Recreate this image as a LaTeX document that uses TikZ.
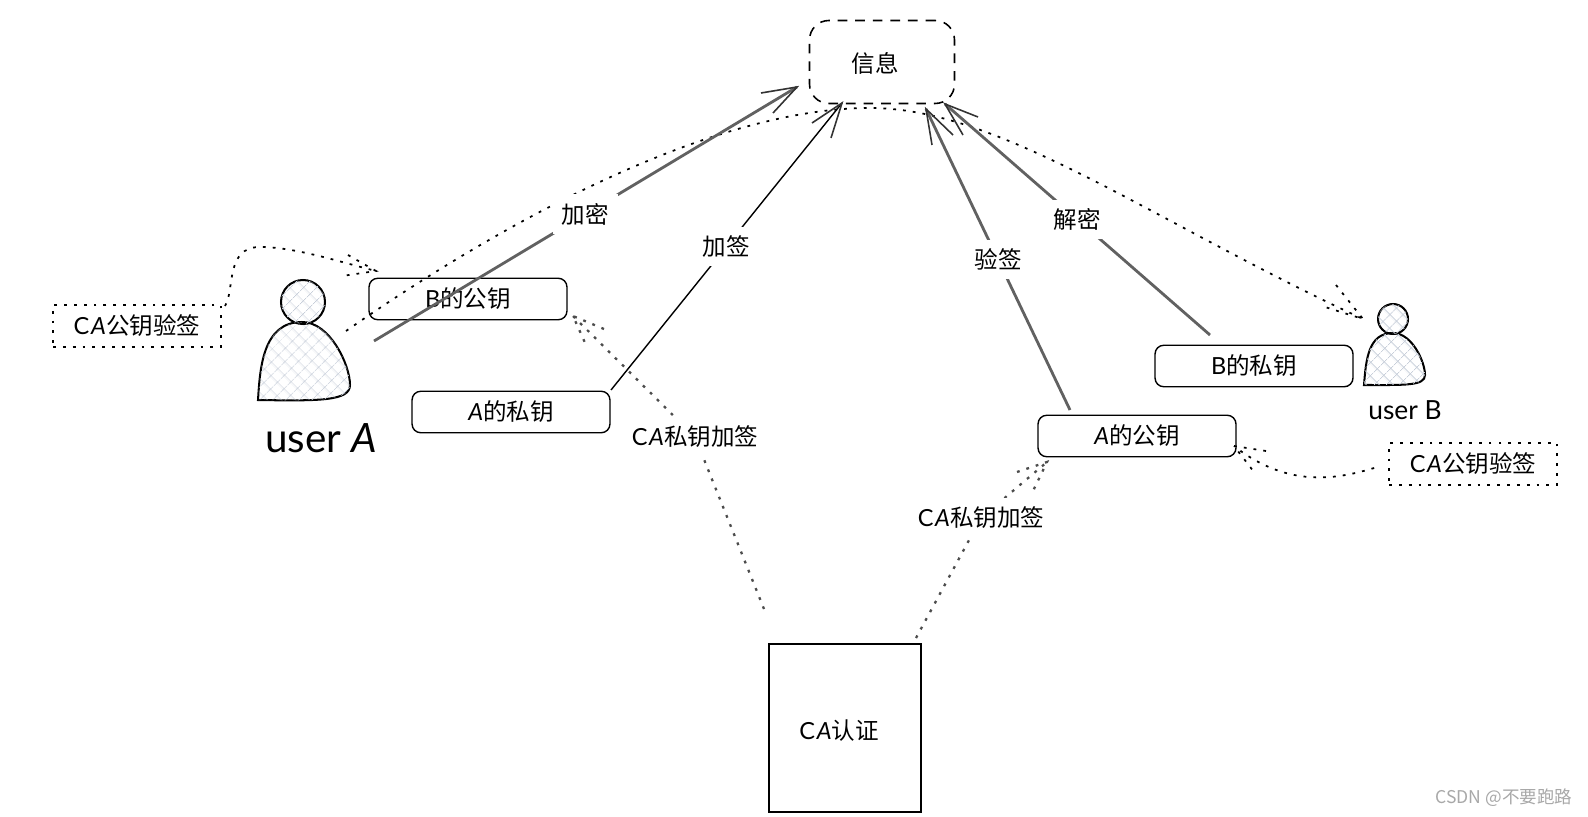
\documentclass[tikz,border=0pt]{standalone}
\usepackage{fontspec}
\setmainfont{Noto Sans CJK SC}
\newfontfamily\handfont{Lato}
\usepackage{tikz}
\usetikzlibrary{arrows.meta,patterns.meta}
\newcommand{\nameA}{{\handfont\itshape A}}
\newcommand{\nameB}{{\handfont B}}
\newcommand{\nameCA}{{\handfont C\kern1pt\itshape A}}
\definecolor{HatchGray}{HTML}{C8CFDA}
\definecolor{MarkGray}{HTML}{A8A8A8}
\begin{document}
\begin{tikzpicture}[
  x=0.02cm,y=-0.02cm,
  every node/.style={font=\fontsize{13.4}{15}\selectfont,align=center,text=black},
  keybox/.style={draw,rounded corners=5pt,minimum width=3.96cm,minimum height=0.83cm,line width=0.8pt},
  notebox/.style={draw,dash pattern=on 1.6pt off 4pt,minimum width=3.36cm,minimum height=0.84cm,line width=1pt},
  tag/.style={fill=white,inner sep=5pt},
  hatched/.style={postaction={pattern={Hatch[angle=45,distance=5.4pt,line width=0.45pt]},pattern color=HatchGray}},
  person/.style={draw,line width=1.15pt,hatched},
  thin arr/.style={line width=0.8pt},
  thick arr/.style={line width=1.6pt,black!62},
  barb/.style={line width=0.9pt,black!80},
  dots/.style={line width=1pt,dash pattern=on 1.6pt off 4pt},
  dots2/.style={line width=1.3pt,black!70,dash pattern=on 1.6pt off 4pt}
]
  \useasboundingbox (0,0) rectangle (1588,817);

  \node[draw,dash pattern=on 5.5pt off 4.5pt,rounded corners=11pt,line width=0.9pt,
        minimum width=2.9cm,minimum height=1.66cm] (msg) at (882,62) {};
  \node (msgtext) at (875,63) {信息};
  \node[keybox] (bpub) at (468,299) {\nameB 的公钥};
  \node[keybox] (apri) at (511,412) {\nameA 的私钥};
  \node[keybox] (bpri) at (1254,366) {\nameB 的私钥};
  \node[keybox] (apub) at (1137,436) {\nameA 的公钥};
  \node[notebox] (noteA) at (137,326) {\nameCA 公钥验签};
  \node[notebox] (noteB) at (1473,464) {\nameCA 公钥验签};
  \node[draw,line width=0.6pt,minimum width=3.04cm,minimum height=3.36cm] (ca) at (845,728) {};
  \node (catext) at (839,731) {\nameCA 认证};

  \draw[person] (258,400) .. controls (260,370) and (262,322) .. (302,322)
    .. controls (330,322) and (350,365) .. (350,385)
    .. controls (350,401) and (320,401) .. cycle;
  \node[circle,draw,line width=1.15pt,minimum size=0.88cm,hatched] (headA) at (303,302) {};
  \draw[person] (1364,385) .. controls (1366,360) and (1368,333) .. (1393,333)
    .. controls (1412,333) and (1425,362) .. (1425,375)
    .. controls (1425,386) and (1405,385) .. cycle;
  \node[circle,draw,line width=1.15pt,minimum size=0.6cm,hatched] (headB) at (1393,319) {};
  \node[font=\handfont\fontsize{23}{25}\selectfont] (userA) at (321,438) {user \itshape A};
  \node[font=\handfont\fontsize{15}{17}\selectfont] (userB) at (1405,410) {user B};

  \coordinate (arcA) at (346,331);
  \coordinate (arcB) at (1363,319);
  \coordinate (lineA) at (374,341);
  \coordinate (lineAri) at (611,390);
  \coordinate (lineApu) at (1070,410);
  \coordinate (lineBri) at (1210,335);
  \coordinate (tipEnc) at (797,87);
  \coordinate (tipSig) at (842,103);
  \coordinate (tipVer) at (926,109);
  \coordinate (tipDec) at (945,104);
  \coordinate (caL) at (764,609);
  \coordinate (caR) at (916,638);
  \coordinate (bendL) at (695,437);
  \coordinate (bendR) at (981,518);
  \coordinate (tipBpub) at (573,316);
  \coordinate (tipApub) at (1047,462);
  \coordinate (tipNoteA) at (376,271);
  \coordinate (tipNoteB) at (1234,446);

  \draw[dots] (arcA) .. controls (520,210) and (720,108) .. (870,108)
    .. controls (1000,108) and (1150,220) .. (arcB);
  \draw[dots] (arcB) +(-27,-34) -- (arcB) -- +(-38,-12);
  \draw[dots] (225,306) .. controls (235,290) and (225,247) .. (260,247)
    .. controls (295,247) and (340,262) .. (tipNoteA);
  \draw[dots] (tipNoteA) +(-28,-16) -- (tipNoteA) -- +(-34,5);
  \draw[dots] (noteB.west) ++(-14,4) .. controls (1340,478) and (1290,490) .. (tipNoteB);
  \draw[dots] (tipNoteB) +(32,5) -- (tipNoteB) -- +(20,26);

  \draw[dots2] (caL) -- (bendL) node[tag] (signL) {\nameCA 私钥加签} -- (tipBpub);
  \draw[dots2] (tipBpub) +(31,13) -- (tipBpub) -- +(13,29);
  \draw[dots2] (caR) -- (bendR) node[tag] (signR) {\nameCA 私钥加签} -- (tipApub);
  \draw[dots2] (tipApub) +(-30,10) -- (tipApub) -- +(-14,29);

  \draw[thick arr] (lineA) -- node[tag] (enc) {加密} (tipEnc);
  \draw[barb] (tipEnc) +(-36,6) -- (tipEnc) -- +(-24,26);
  \draw[thin arr] (lineAri) -- node[tag] (sig) {加签} (tipSig);
  \draw[barb] (tipSig) +(-30,20) -- (tipSig) -- +(-11,35);
  \draw[thick arr] (lineApu) -- node[tag] (ver) {验签} (tipVer);
  \draw[barb] (tipVer) +(6,36) -- (tipVer) -- +(27,26);
  \draw[thick arr] (lineBri) -- node[tag] (dec) {解密} (tipDec);
  \draw[barb] (tipDec) +(33,13) -- (tipDec) -- +(18,31);

  \node[font=\fontsize{10}{12}\selectfont,text=MarkGray] (mark) at (1504,798) {CSDN @不要跑路};
\end{tikzpicture}
\end{document}
